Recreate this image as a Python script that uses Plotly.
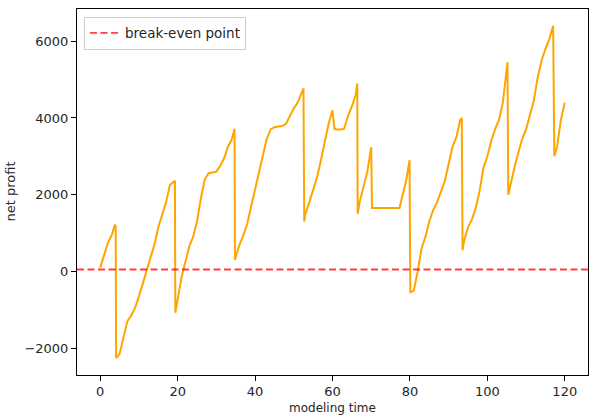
import plotly.graph_objects as go

# modeling time (drops encoded as two nearby time points)
time = [0, 1, 2, 3, 3.8, 4.0, 4.1,
        5, 6, 7, 8, 9, 10, 11, 12, 13, 14, 15, 16, 17, 18, 19, 19.3, 19.4,
        20, 21, 22, 23, 24, 25, 26, 27, 28, 29, 30, 31, 32, 33, 34, 34.7, 34.8,
        35, 36, 37, 38, 39, 40, 41, 42, 43, 44, 45, 46, 47, 48, 49, 50, 51, 52, 52.5, 52.7,
        53, 54, 55, 56, 57, 58, 59, 60, 60.5, 61, 62, 63, 64, 65, 66, 66.4, 66.5,
        67, 68, 69, 70, 70.2, 71, 72, 73, 74, 75, 76, 77.3, 78, 79, 79.9, 80.1,
        81, 82, 83, 84, 85, 86, 87, 88, 89, 90, 91, 92, 93, 93.4, 93.6,
        94, 95, 96, 97, 98, 99, 100, 101, 102, 103, 104, 104.8, 105.2, 105.4,
        106, 107, 108, 109, 110, 111, 112, 113, 114, 115, 116, 117, 117.3,
        118, 119, 120]
net_profit = [100, 450, 750, 950, 1220, 1180, -2260,
              -2150, -1700, -1300, -1150, -950, -650, -300, 0, 350, 700, 1150, 1450, 1800, 2250, 2330, 2360, -1080,
              -700, -150, 250, 650, 900, 1300, 1900, 2400, 2560, 2580, 2600, 2750, 2950, 3250, 3450, 3720, 300,
              380, 700, 950, 1250, 1700, 2150, 2550, 3050, 3450, 3700, 3760, 3780, 3790, 3850, 4050, 4250, 4400, 4650, 4770, 1300,
              1500, 1800, 2100, 2450, 2900, 3350, 3850, 4200, 3720, 3700, 3700, 3720, 4050, 4300, 4600, 4900, 1500,
              1800, 2200, 2600, 3240, 1650, 1650, 1650, 1650, 1650, 1650, 1650, 1650, 1950, 2350, 2900, -540,
              -500, 0, 600, 900, 1300, 1600, 1800, 2050, 2350, 2800, 3250, 3500, 3950, 4000, 550,
              800, 1150, 1350, 1650, 2100, 2700, 3000, 3400, 3700, 3950, 4400, 5100, 5450, 2000,
              2300, 2700, 3100, 3450, 3700, 4050, 4450, 5050, 5500, 5800, 6050, 6400, 3000,
              3250, 3950, 4400]

BREAK_EVEN = 50
X_RANGE = [-6, 126]
Y_RANGE = [-2700, 6840]
x_ticks = [0, 20, 40, 60, 80, 100, 120]
y_ticks = [-2000, 0, 2000, 4000, 6000]

FONT = "DejaVu Sans"
TXT = "#262626"

fig = go.Figure()
fig.add_trace(go.Scatter(
    x=time, y=net_profit, mode="lines", showlegend=False,
    line=dict(color="#FFA500", width=2)))
fig.add_trace(go.Scatter(
    x=X_RANGE, y=[BREAK_EVEN, BREAK_EVEN], mode="lines",
    name="break-even point", opacity=0.75,
    line=dict(color="red", width=1.8, dash="7px,3.5px")))

axis_common = dict(showgrid=False, zeroline=False, showline=True, mirror=True,
                   linecolor="black", linewidth=1, ticks="outside", ticklen=5,
                   tickwidth=1, tickcolor="black",
                   tickfont=dict(family=FONT, size=13, color=TXT))
fig.update_xaxes(range=X_RANGE, tickvals=x_ticks, ticklabelstandoff=-1, **axis_common)
fig.update_yaxes(range=Y_RANGE, tickvals=y_ticks, **axis_common)

fig.update_layout(
    width=591, height=416,
    margin=dict(l=77, r=3, t=9, b=41),
    paper_bgcolor="white", plot_bgcolor="white",
    font=dict(family=FONT, size=13, color=TXT),
    legend=dict(x=0.0137, y=0.979, xanchor="left", yanchor="top",
                bgcolor="rgba(255,255,255,0.8)", bordercolor="#cccccc",
                borderwidth=1, itemwidth=30,
                font=dict(family=FONT, size=13.5, color=TXT)),
    annotations=[
        dict(text="modeling time", xref="paper", yref="paper",
             x=0.5, y=-41 / 366, xanchor="center", yanchor="bottom",
             showarrow=False, borderpad=0,
             font=dict(family=FONT, size=12, color=TXT)),
        dict(text="net profit", xref="paper", yref="paper",
             x=-77 / 511, y=0.5, xanchor="left", yanchor="middle", textangle=-90,
             showarrow=False, font=dict(family=FONT, size=13, color=TXT)),
    ],
)

fig.write_html("out.html")
